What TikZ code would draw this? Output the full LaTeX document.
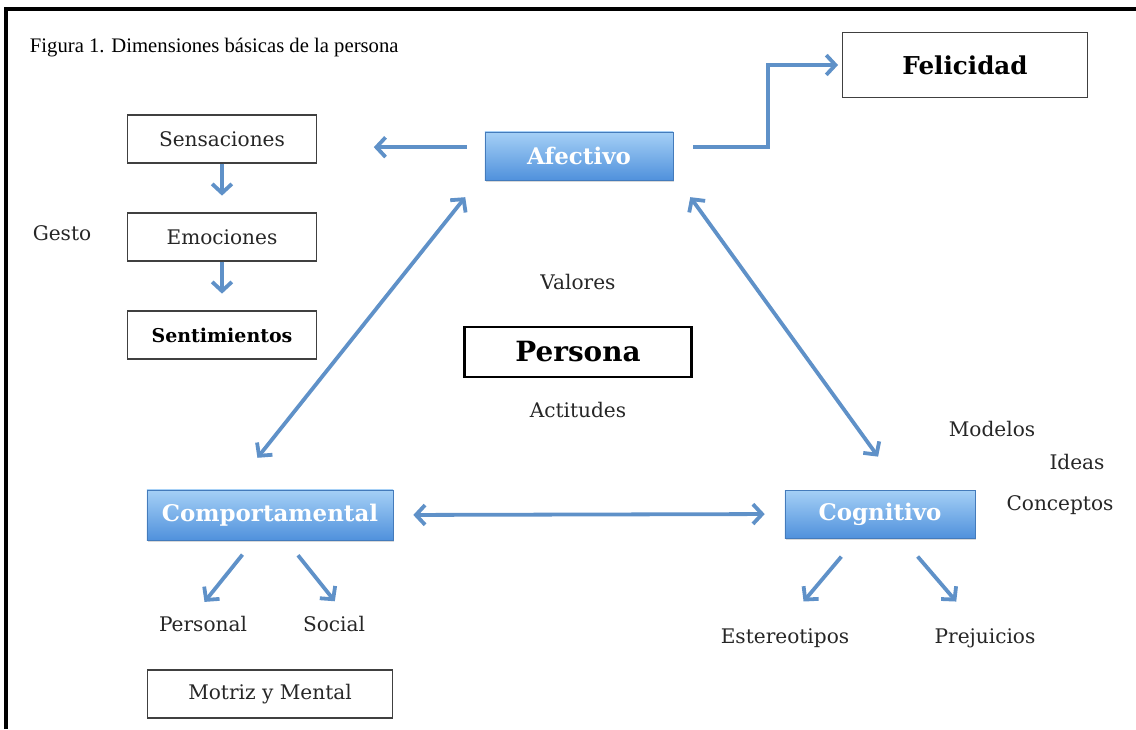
\documentclass[tikz,border=0pt]{standalone}
\usepackage{fontspec}
\setmainfont{DejaVu Serif}
\newfontfamily\titlefont{Liberation Serif}
\usetikzlibrary{arrows.meta,shadows}

\definecolor{linkblue}{RGB}{95,145,200}
\definecolor{boxtop}{RGB}{165,208,246}
\definecolor{boxbot}{RGB}{80,145,220}

\begin{document}
\begin{tikzpicture}[x=0.025cm, y=-0.025cm,
    every node/.style={font=\fontsize{14.3}{17}\selectfont, text=black!85},
    box/.style={draw=black!75, line width=0.8pt, minimum width=4.72cm, minimum height=1.2cm},
    bluebox/.style={draw=boxbot!85!black, line width=0.4pt, top color=boxtop, bottom color=boxbot,
      minimum width=4.7cm, minimum height=1.2cm, text=white,
      font=\fontsize{16.3}{19}\selectfont\bfseries,
      drop shadow={opacity=0.3, shadow xshift=1pt, shadow yshift=-1.5pt}},
    link/.style={draw=linkblue, line width=2.7pt, -{Straight Barb[length=6.5pt,width=14pt]}},
    dlink/.style={link, {Straight Barb[length=6.5pt,width=14pt]}-{Straight Barb[length=6.5pt,width=14pt]}}]

    \useasboundingbox (0,0) rectangle (1136,729);

    % Frame
    \draw[line width=3.4pt] (6,729) -- (6,9) -- (1136,9);

    % Nodes
    \node[anchor=west, font=\titlefont\fontsize{14.7}{17}\selectfont, text=black] (title) at (25,48) {Figura 1. Dimensiones básicas de la persona};
    \node[box, minimum width=6.12cm, minimum height=1.62cm, font=\fontsize{17.5}{20}\selectfont\bfseries, text=black] (feli) at (965,65) {Felicidad};

    \node[bluebox] (afe) at (579,156) {Afectivo};
    \node[bluebox, minimum width=6.15cm, minimum height=1.25cm] (comp) at (270,515) {Comportamental};
    \node[bluebox, minimum width=4.75cm] (cog) at (880,514) {Cognitivo};

    \node[box] (sens) at (222,139) {Sensaciones};
    \node[box] (emo) at (222,237) {Emociones};
    \node[box, font=\fontsize{13.5}{16}\selectfont\bfseries, text=black] (sent) at (222,335) {Sentimientos};
    \node (gesto) at (62,233) {Gesto};

    \node (val) at (578,282) {Valores};
    \node[box, draw=black, line width=2pt, minimum width=5.68cm, minimum height=1.25cm, font=\fontsize{19.8}{23}\selectfont\bfseries, text=black] (pers) at (578,352) {Persona};
    \node (act) at (578,410) {Actitudes};

    \node (mod) at (992,429) {Modelos};
    \node (ideas) at (1077,462) {Ideas};
    \node (conc) at (1060,505) {Conceptos};

    \node (personal) at (203,624) {Personal};
    \node (social) at (334,624) {Social};
    \node[box, minimum width=6.12cm] (motriz) at (270,694) {Motriz y Mental};

    \node (est) at (785,638) {Estereotipos};
    \node (prej) at (985,638) {Prejuicios};

    % Links
    \draw[link, shorten <=0.45cm, shorten >=1.42cm] ([yshift=0.22cm]afe.west) -- ([yshift=0.22cm]afe.west -| sens.east);
    \draw[link, shorten <=0.5cm, shorten >=0.1cm] ([yshift=0.22cm]afe.east) -- ++(95,0) |- (feli.west);
    \draw[link, shorten >=0.42cm] (sens.south) -- (emo.north);
    \draw[link, shorten >=0.42cm] (emo.south) -- (sent.north);

    \draw[dlink, shorten <=0.54cm, shorten >=1.02cm] ([xshift=-0.15cm]afe.south west) -- ([xshift=-0.95cm]comp.north);
    \draw[dlink, shorten <=0.52cm, shorten >=1.02cm] ([xshift=0.12cm]afe.south east) -- ([xshift=0.55cm]cog.north);
    \draw[dlink, shorten <=0.5cm, shorten >=0.5cm] (comp.east) -- (cog.west);

    \draw[link, shorten <=0.46cm, shorten >=0.3cm] ([xshift=-0.4cm]comp.south) -- ([xshift=-0.15cm]personal.north);
    \draw[link, shorten <=0.48cm, shorten >=0.32cm] ([xshift=0.4cm]comp.south) -- ([xshift=0.22cm]social.north);
    \draw[link, shorten <=0.6cm, shorten >=0.72cm] ([xshift=-0.58cm]cog.south) -- (est.north);
    \draw[link, shorten <=0.6cm, shorten >=0.72cm] ([xshift=0.55cm]cog.south) -- ([xshift=-0.25cm]prej.north);
\end{tikzpicture}
\end{document}
